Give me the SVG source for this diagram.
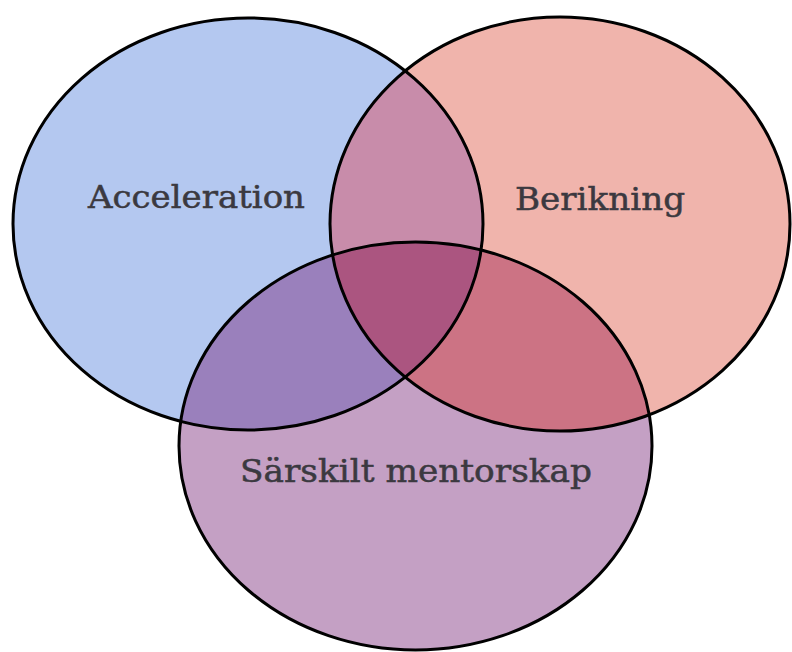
<svg xmlns="http://www.w3.org/2000/svg" xmlns:xlink="http://www.w3.org/1999/xlink" width="792" height="652" viewBox="0 0 792 652">
  <style>
    .lbl { font-family: "DejaVu Serif", "Liberation Serif", serif; font-size: 31px; fill: #3b3940; stroke: #3b3940; stroke-width: 0.5; }
    .edge { fill: none; stroke: #000; stroke-width: 3; }
  </style>
  <defs>
    <ellipse id="eB" cx="248" cy="224" rx="235" ry="206"/>
    <ellipse id="eR" cx="560" cy="224" rx="230" ry="207"/>
    <ellipse id="eP" cx="415.5" cy="446" rx="236.5" ry="204"/>
    <clipPath id="cB"><use xlink:href="#eB"/></clipPath>
    <clipPath id="cR"><use xlink:href="#eR"/></clipPath>
    <clipPath id="cP"><use xlink:href="#eP"/></clipPath>
  </defs>
  <rect width="792" height="652" fill="#fff"/>

  <g id="node-acceleration">
    <use xlink:href="#eB" fill="#B4C8F0"/>
    <use xlink:href="#eB" class="edge"/>
    <text class="lbl" x="88" y="208" textLength="217" lengthAdjust="spacingAndGlyphs">Acceleration</text>
  </g>

  <g id="node-mentorskap">
    <use xlink:href="#eP" fill="#C4A0C4"/>
    <use xlink:href="#eP" fill="#9A80BC" clip-path="url(#cB)"/>
    <use xlink:href="#eB" class="edge" stroke="#3a0d3c" clip-path="url(#cP)"/>
    <use xlink:href="#eP" class="edge"/>
    <text class="lbl" x="240" y="482" textLength="352" lengthAdjust="spacingAndGlyphs">Särskilt mentorskap</text>
  </g>

  <g id="node-berikning">
    <use xlink:href="#eR" fill="#F0B4AC"/>
    <use xlink:href="#eR" fill="#C88CAA" clip-path="url(#cB)"/>
    <use xlink:href="#eR" fill="#CC7384" clip-path="url(#cP)"/>
    <g clip-path="url(#cB)">
      <use xlink:href="#eR" fill="#AB5580" clip-path="url(#cP)"/>
    </g>
    <g clip-path="url(#cR)">
      <use xlink:href="#eB" class="edge" stroke="#5c0c1c"/>
      <use xlink:href="#eP" class="edge" stroke="#5c0c1c"/>
    </g>
    <use xlink:href="#eR" class="edge"/>
    <text class="lbl" x="515" y="210" textLength="170" lengthAdjust="spacingAndGlyphs">Berikning</text>
  </g>

  <g id="connectors"></g>
</svg>
